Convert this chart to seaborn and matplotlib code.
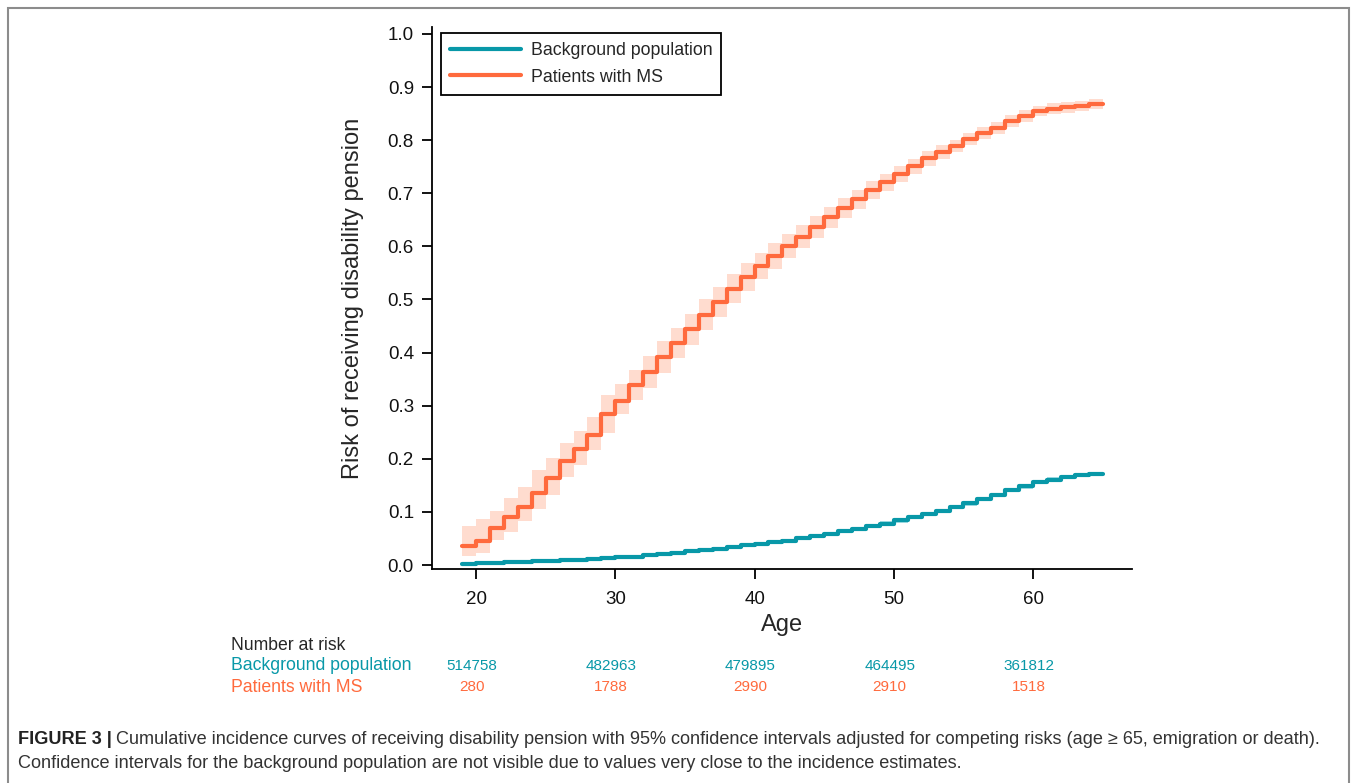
import matplotlib
matplotlib.use('Agg')
import matplotlib.pyplot as plt
import matplotlib.transforms as mtransforms
from matplotlib.patches import Rectangle
from matplotlib.lines import Line2D
import seaborn as sns
import pandas as pd

# ages 19..64, each value holds until the next age, last one to 65
ages = list(range(19, 65))
bg_risk = [0.002, 0.003, 0.004, 0.005, 0.006, 0.007, 0.008, 0.009, 0.010, 0.011,
           0.013, 0.015, 0.016, 0.018, 0.021, 0.023, 0.026, 0.028, 0.031, 0.034,
           0.037, 0.040, 0.043, 0.046, 0.050, 0.054, 0.058, 0.064, 0.068, 0.073,
           0.078, 0.084, 0.090, 0.096, 0.102, 0.109, 0.116, 0.124, 0.132, 0.141,
           0.148, 0.156, 0.161, 0.166, 0.169, 0.172]
bg_lo = [0.000, 0.001, 0.002, 0.003, 0.004, 0.005, 0.006, 0.007, 0.008, 0.009,
         0.010, 0.012, 0.013, 0.015, 0.018, 0.020, 0.023, 0.025, 0.028, 0.031,
         0.034, 0.037, 0.040, 0.043, 0.047, 0.051, 0.055, 0.060, 0.064, 0.069,
         0.074, 0.080, 0.086, 0.092, 0.098, 0.105, 0.112, 0.120, 0.128, 0.137,
         0.144, 0.152, 0.157, 0.162, 0.165, 0.168]
bg_hi = [0.004, 0.005, 0.006, 0.007, 0.008, 0.009, 0.010, 0.011, 0.012, 0.013,
         0.016, 0.018, 0.019, 0.021, 0.024, 0.026, 0.029, 0.031, 0.034, 0.037,
         0.040, 0.043, 0.046, 0.049, 0.053, 0.057, 0.061, 0.068, 0.072, 0.077,
         0.082, 0.088, 0.094, 0.100, 0.106, 0.113, 0.120, 0.128, 0.136, 0.145,
         0.152, 0.160, 0.165, 0.170, 0.173, 0.176]
ms_risk = [0.036, 0.046, 0.070, 0.090, 0.110, 0.136, 0.163, 0.195, 0.218, 0.245,
           0.284, 0.309, 0.339, 0.363, 0.392, 0.418, 0.444, 0.471, 0.495, 0.520,
           0.542, 0.563, 0.582, 0.601, 0.618, 0.637, 0.655, 0.672, 0.689, 0.706,
           0.721, 0.736, 0.751, 0.766, 0.778, 0.789, 0.802, 0.813, 0.823, 0.836,
           0.846, 0.855, 0.859, 0.862, 0.864, 0.868]
ms_lo = [0.017, 0.023, 0.048, 0.063, 0.082, 0.105, 0.132, 0.165, 0.188, 0.217,
         0.249, 0.284, 0.310, 0.333, 0.362, 0.389, 0.415, 0.442, 0.467, 0.493,
         0.516, 0.538, 0.558, 0.578, 0.596, 0.616, 0.635, 0.653, 0.671, 0.689,
         0.705, 0.721, 0.737, 0.752, 0.765, 0.777, 0.791, 0.802, 0.812, 0.825,
         0.835, 0.845, 0.849, 0.852, 0.854, 0.858]
ms_hi = [0.073, 0.086, 0.102, 0.126, 0.146, 0.178, 0.202, 0.229, 0.253, 0.278,
         0.321, 0.341, 0.368, 0.393, 0.422, 0.447, 0.473, 0.500, 0.523, 0.547,
         0.568, 0.588, 0.606, 0.624, 0.640, 0.658, 0.675, 0.691, 0.707, 0.723,
         0.737, 0.751, 0.765, 0.780, 0.791, 0.801, 0.813, 0.824, 0.834, 0.847,
         0.857, 0.865, 0.869, 0.872, 0.874, 0.878]

groups = ['Background population', 'Patients with MS']
risk_ages = [20, 30, 40, 50, 60]
bg_at_risk = [514758, 482963, 479895, 464495, 361812]
ms_at_risk = [280, 1788, 2990, 2910, 1518]

TEAL = '#0898a8'
ORANGE = '#ff6a3d'
TEAL_BAND = '#a6dde4'
ORANGE_BAND = '#ffdccf'

sns.set_style('white')
plt.rcParams['font.family'] = ['Liberation Sans', 'DejaVu Sans']

W, H = 1357, 783
fig = plt.figure(figsize=(W / 100, H / 100), dpi=100)


def fx(px):
    return px / W


def fy(py):
    return 1 - py / H


ax = fig.add_axes([fx(432), fy(569), 700 / W, 542 / H])

# step data: repeat the final value at age 65
step_x = ages + [65]
rows = []
for g, vals in zip(groups, [bg_risk, ms_risk]):
    for a, v in zip(step_x, vals + [vals[-1]]):
        rows.append({'age': a, 'risk': v, 'group': g})
df = pd.DataFrame(rows)

ax.fill_between(step_x, ms_lo + [ms_lo[-1]], ms_hi + [ms_hi[-1]], step='post',
                color=ORANGE_BAND, lw=0, zorder=1)
ax.fill_between(step_x, bg_lo + [bg_lo[-1]], bg_hi + [bg_hi[-1]], step='post',
                color=TEAL_BAND, lw=0, zorder=1)
sns.lineplot(data=df, x='age', y='risk', hue='group', palette=[TEAL, ORANGE],
             drawstyle='steps-post', linewidth=3, ax=ax, legend=False, zorder=3)

ax.set_xlim(16.84, 67.1)
ax.set_ylim(-0.0075, 1.013)
ax.set_xticks(risk_ages)
ax.set_yticks([i / 10 for i in range(11)])
ax.set_yticklabels([f'{i / 10:.1f}' for i in range(11)])
for lab in ax.get_xticklabels() + ax.get_yticklabels():
    lab.set_fontsize(13.5)
    lab.set_color('#111111')
ax.tick_params(axis='both', direction='out', length=7, width=1.3, color='black',
               left=True, bottom=True)
ax.tick_params(axis='x', pad=9)
ax.tick_params(axis='y', pad=6)
for side in ['top', 'right']:
    ax.spines[side].set_visible(False)
for side in ['left', 'bottom']:
    ax.spines[side].set_color('black')
    ax.spines[side].set_linewidth(1.3)

ax.set_xlabel('Age', fontsize=17, labelpad=4)
ax.set_ylabel('Risk of receiving disability pension', fontsize=17, labelpad=17)

handles = [Line2D([], [], color=TEAL, lw=3), Line2D([], [], color=ORANGE, lw=3)]
leg = ax.legend(handles, groups, loc='upper left',
                bbox_to_anchor=(fx(441), fy(33)), bbox_transform=fig.transFigure,
                borderaxespad=0, fancybox=False, framealpha=1, edgecolor='black',
                handlelength=4.0, handletextpad=0.55, labelspacing=0.55,
                borderpad=0.5, prop={'size': 12.8})
leg.get_frame().set_linewidth(1.3)

# number at risk table
fig.text(fx(231), fy(646), 'Number at risk', fontsize=12.7, va='center', ha='left')
fig.text(fx(231), fy(666), groups[0], fontsize=12.7, va='center', ha='left', color=TEAL)
fig.text(fx(231), fy(687), groups[1], fontsize=12.7, va='center', ha='left', color=ORANGE)
blend = mtransforms.blended_transform_factory(ax.transData, fig.transFigure)
for a, nb, nm in zip(risk_ages, bg_at_risk, ms_at_risk):
    ax.text(a - 0.3, fy(666), str(nb), transform=blend, ha='center', va='center',
            fontsize=11, color=TEAL, clip_on=False)
    ax.text(a - 0.3, fy(687), str(nm), transform=blend, ha='center', va='center',
            fontsize=11, color=ORANGE, clip_on=False)

# caption
cap1 = ('Cumulative incidence curves of receiving disability pension with 95% confidence '
        'intervals adjusted for competing risks (age \u2265 65, emigration or death).')
cap2 = ('Confidence intervals for the background population are not visible due to values '
        'very close to the incidence estimates.')
t = fig.text(fx(18), fy(739), 'FIGURE 3 |', fontsize=13.1, fontweight='bold',
             va='center', ha='left', color='#222222')
fig.canvas.draw()
bb = t.get_window_extent()
fig.text(bb.x1 / W + 4 / W, fy(739), cap1, fontsize=13.1, va='center', ha='left',
         color='#333333')
fig.text(fx(18), fy(764), cap2, fontsize=13.1, va='center', ha='left', color='#333333')

# frame around the figure panel
fig.patches.append(Rectangle((fx(8), -0.05), (1349 - 8) / W, fy(8) + 0.05,
                             transform=fig.transFigure, fill=False,
                             edgecolor='#8c8c8c', lw=1.5))

fig.savefig('out.png', dpi=100)
